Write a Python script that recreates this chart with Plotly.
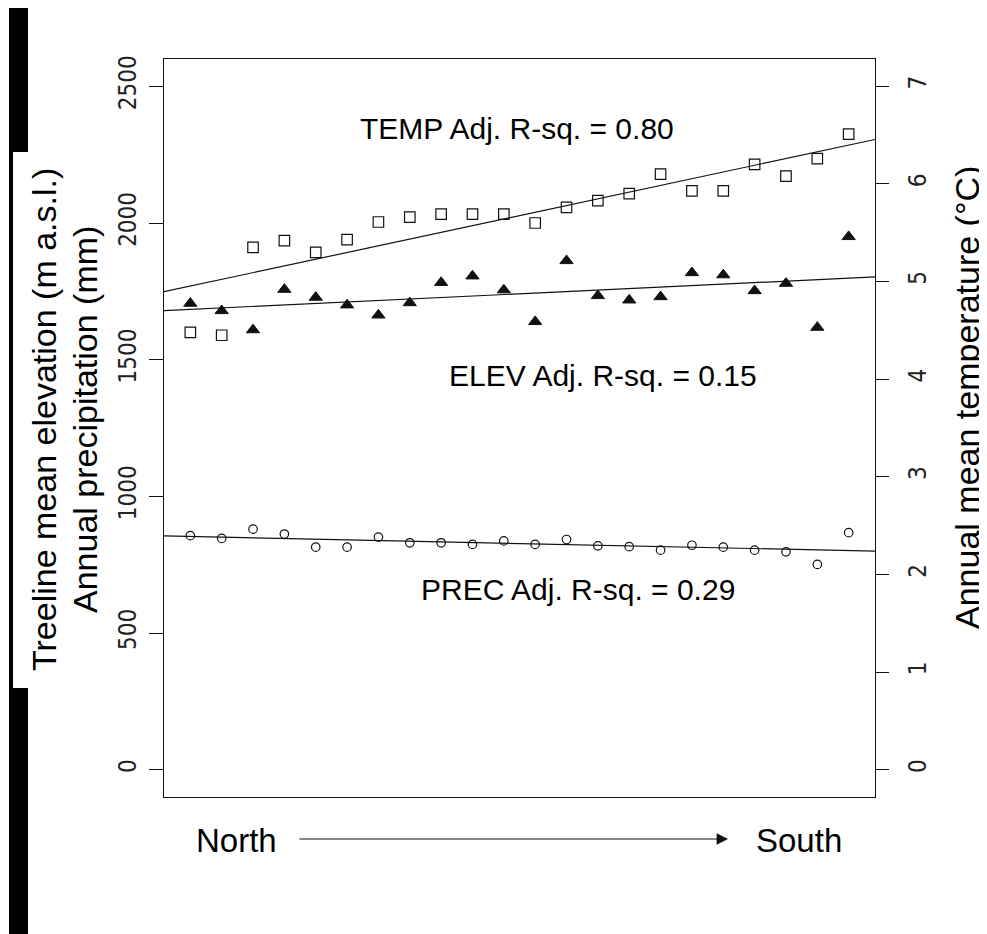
import numpy as np
import plotly.graph_objects as go

# ---- data ----
site_index = list(range(1, 23))  # North -> South
temp_c = [4.48, 4.45, 5.35, 5.42, 5.30, 5.43, 5.61, 5.66, 5.69, 5.69, 5.69,
          5.60, 5.76, 5.83, 5.90, 6.10, 5.93, 5.93, 6.20, 6.08, 6.26, 6.51]
elev_m = [1706, 1679, 1609, 1757, 1728, 1700, 1663, 1708, 1782, 1806, 1755,
          1639, 1862, 1734, 1718, 1730, 1818, 1810, 1752, 1779, 1618, 1950]
prec_mm = [856, 846, 880, 862, 814, 814, 851, 830, 830, 824, 837,
           824, 842, 819, 816, 803, 821, 814, 803, 797, 751, 867]
left_ticks = [0, 500, 1000, 1500, 2000, 2500]
right_ticks = [0, 1, 2, 3, 4, 5, 6, 7]
r2_labels = {"TEMP": "0.80", "ELEV": "0.15", "PREC": "0.29"}

# ---- layout geometry (page has an 8px body margin) ----
OFF = 8
W, H = 987 - OFF, 934 - OFF
L, R, T, B = 164, 875, 59, 797          # plot box in screen pixels
XR = [0.16, 22.84]
YR = [-100, 2600]
Y2R = [-0.28, 7.28]

def px(xp):
    return (xp - L) / (R - L)

def py(yp):
    return (B - yp) / (B - T)

x = np.array(site_index, dtype=float)
xline = np.array(XR)

def fit(y):
    b, a = np.polyfit(x, np.array(y, dtype=float), 1)
    return a + b * xline

INK = "#111111"
TXT = "Liberation Sans, Arial, sans-serif"
NARROW = "Liberation Sans Narrow, Arial Narrow, DejaVu Sans Condensed, Liberation Sans, sans-serif"

fig = go.Figure()
fig.add_trace(go.Scatter(x=x, y=temp_c, yaxis="y2", mode="markers",
                         marker=dict(symbol="square-open", size=10.5, color=INK, line=dict(width=1.2, color=INK))))
fig.add_trace(go.Scatter(x=xline, y=fit(temp_c), yaxis="y2", mode="lines",
                         line=dict(color=INK, width=1.2)))
fig.add_trace(go.Scatter(x=x, y=elev_m, mode="markers",
                         marker=dict(symbol="triangle-up", size=11.5, color=INK, line=dict(width=1.0, color=INK))))
fig.add_trace(go.Scatter(x=xline, y=fit(elev_m), mode="lines",
                         line=dict(color=INK, width=1.2)))
fig.add_trace(go.Scatter(x=x, y=prec_mm, mode="markers",
                         marker=dict(symbol="circle-open", size=8.5, color=INK, line=dict(width=1.2, color=INK))))
fig.add_trace(go.Scatter(x=xline, y=fit(prec_mm), mode="lines",
                         line=dict(color=INK, width=1.2)))

def label(xs, ys, text, size, angle=0):
    return dict(x=px(xs), y=py(ys), xref="paper", yref="paper", text=text,
                showarrow=False, textangle=angle, xanchor="center", yanchor="middle",
                font=dict(family=TXT, size=size, color="black"))

ann = [
    label(516.5, 128.5, "TEMP Adj. R-sq. = " + r2_labels["TEMP"], 30),
    label(603, 375, "ELEV Adj. R-sq. = " + r2_labels["ELEV"], 30),
    label(578, 589, "PREC Adj. R-sq. = " + r2_labels["PREC"], 30),
    label(44, 420, "Treeline mean elevation (m a.s.l.)", 34, -90),
    label(85, 420, "Annual precipitation (mm)", 34, -90),
    label(967, 397, "Annual mean temperature (°C)", 34, -90),
    label(236.5, 840, "North", 33),
    label(799, 840, "South", 33),
    dict(x=px(728), y=py(839), xref="paper", yref="paper", text="",
         showarrow=True, ax=298 - 728, ay=0, arrowhead=2, arrowsize=1.9,
         arrowwidth=1.2, arrowcolor=INK, standoff=0, startstandoff=0),
]

shapes = [
    dict(type="rect", xref="paper", yref="paper", x0=px(9), x1=px(28), y0=py(5), y1=py(152),
         fillcolor="black", line=dict(width=0), layer="above"),
    dict(type="rect", xref="paper", yref="paper", x0=px(9), x1=px(28), y0=py(688), y1=py(940),
         fillcolor="black", line=dict(width=0), layer="above"),
    dict(type="rect", xref="paper", yref="paper", x0=px(9), x1=px(13), y0=py(152), y1=py(688),
         fillcolor="black", line=dict(width=0), layer="above"),
]

fig.update_layout(
    width=W, height=H,
    margin=dict(l=L - OFF, r=W - (R - OFF), t=T - OFF, b=H - (B - OFF), pad=0),
    plot_bgcolor="white", paper_bgcolor="white",
    showlegend=False,
    annotations=ann, shapes=shapes,
    xaxis=dict(range=XR, showticklabels=False, ticks="", showgrid=False, zeroline=False,
               showline=True, mirror=True, linecolor=INK, linewidth=1.3),
    yaxis=dict(range=YR, tickvals=left_ticks, ticktext=[str(v) for v in left_ticks],
               ticks="outside", ticklen=14, tickwidth=1.3, tickcolor=INK,
               tickangle=-90, tickfont=dict(family=NARROW, size=24, color="#222222"),
               ticklabelstandoff=3,
               showgrid=False, zeroline=False, showline=True, mirror=True,
               linecolor=INK, linewidth=1.3),
    yaxis2=dict(range=Y2R, tickvals=right_ticks, ticktext=[str(v) for v in right_ticks],
                overlaying="y", side="right",
                ticks="outside", ticklen=13, tickwidth=1.3, tickcolor=INK,
                tickangle=-90, tickfont=dict(family=NARROW, size=24, color="#222222"),
                ticklabelstandoff=8,
                showgrid=False, zeroline=False, showline=True, linecolor=INK, linewidth=1.3),
)

fig.write_html("out.html")
